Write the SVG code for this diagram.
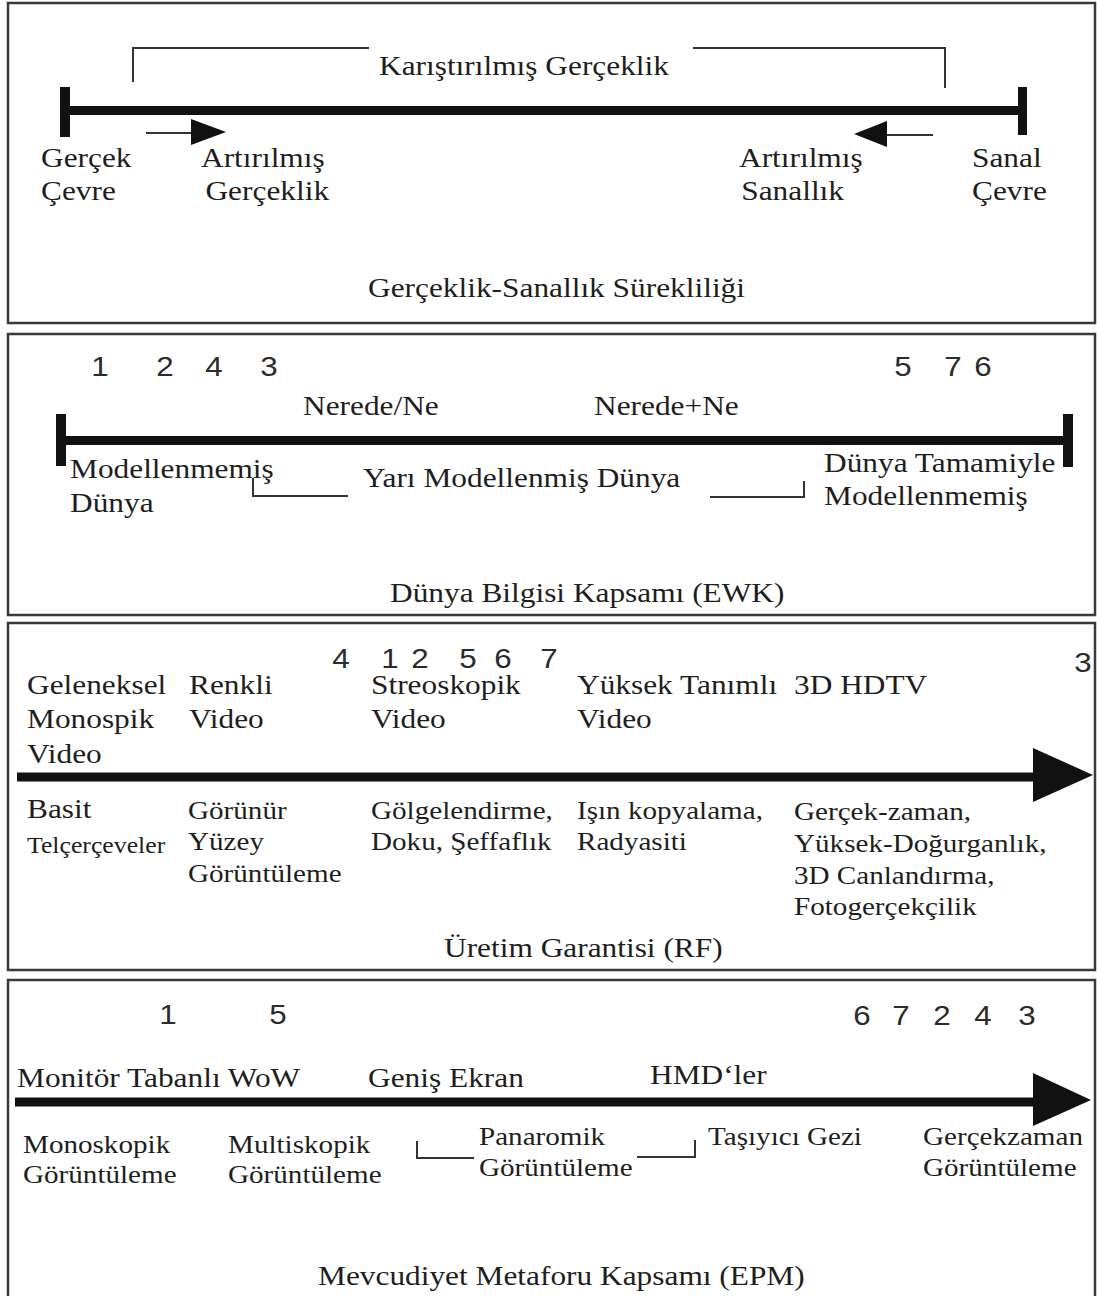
<svg xmlns="http://www.w3.org/2000/svg" width="1097" height="1296" viewBox="0 0 1097 1296">
<style>
.t{font-family:"Liberation Serif","Times New Roman",serif;font-size:28px;fill:#1e1e1e}
.s{font-size:26px}
.xs{font-size:23px}
.n{font-family:"Liberation Sans",Arial,sans-serif;font-size:28px;fill:#2b2b2b;text-anchor:middle}
.frame{fill:#fff;stroke:#3a3a3a;stroke-width:2.5}
.axis{stroke:#111;stroke-width:9;fill:none}
.thin{fill:none;stroke:#333;stroke-width:2}
.head{fill:#111}
</style>
<rect width="1097" height="1296" fill="#fff"/>
<!-- panel frames -->
<g id="panel1"><rect class="frame" x="8" y="3" width="1087" height="320"/></g>
<g id="panel2"><rect class="frame" x="8" y="334" width="1087" height="281"/></g>
<g id="panel3"><rect class="frame" x="8" y="623" width="1087" height="347"/></g>
<g id="panel4"><rect class="frame" x="8" y="980" width="1087" height="330"/></g>

<g id="connectors">
  <!-- panel 1 -->
  <path class="thin" d="M133,82 V48 H369 M693,48 H945 V88"/>
  <line class="axis" x1="64" y1="110.5" x2="1022" y2="110.5"/>
  <rect class="head" x="60" y="87" width="10" height="50"/>
  <rect class="head" x="1018" y="87" width="9" height="48"/>
  <line class="thin" x1="146" y1="133" x2="193" y2="133"/>
  <polygon class="head" points="191,119 226,132 191,145"/>
  <line class="thin" x1="885" y1="135" x2="933" y2="135"/>
  <polygon class="head" points="887,121 854,134 887,147"/>
  <!-- panel 2 -->
  <line class="axis" x1="56" y1="440.5" x2="1073" y2="440.5"/>
  <rect class="head" x="56" y="414" width="10" height="52"/>
  <rect class="head" x="1063" y="414" width="10" height="53"/>
  <path class="thin" d="M253,478 V496 H348"/>
  <path class="thin" d="M710,497 H804 V481"/>
  <!-- panel 3 -->
  <line class="axis" x1="17" y1="777" x2="1040" y2="777"/>
  <polygon class="head" points="1033,748 1093,775 1033,802"/>
  <!-- panel 4 -->
  <line class="axis" x1="15" y1="1102" x2="1040" y2="1102"/>
  <polygon class="head" points="1033,1073 1091,1100 1033,1126"/>
  <path class="thin" d="M417,1141 V1158 H474"/>
  <path class="thin" d="M637,1157 H695 V1140"/>
</g>

<!-- panel 1 nodes -->
<g id="karistirilmis"><text class="t" transform="translate(379,0) scale(1.12,1)" x="0" y="75">Karıştırılmış Gerçeklik</text></g>
<g id="gercek-cevre"><text class="t" transform="translate(41,0) scale(1.12,1)"><tspan x="0" y="167">Gerçek</tspan><tspan x="0" y="200">Çevre</tspan></text></g>
<g id="artirilmis-gerceklik"><text class="t" transform="translate(201,0) scale(1.12,1)"><tspan x="0" y="167">Artırılmış</tspan><tspan x="4" y="200">Gerçeklik</tspan></text></g>
<g id="artirilmis-sanallik"><text class="t" transform="translate(739,0) scale(1.12,1)"><tspan x="0" y="167">Artırılmış</tspan><tspan x="2" y="200">Sanallık</tspan></text></g>
<g id="sanal-cevre"><text class="t" transform="translate(972,0) scale(1.12,1)"><tspan x="0" y="167">Sanal</tspan><tspan x="0" y="200">Çevre</tspan></text></g>
<g id="title1"><text class="t" transform="translate(368,0) scale(1.12,1)" x="0" y="297">Gerçeklik-Sanallık Sürekliliği</text></g>

<!-- panel 2 nodes -->
<g id="nums2">
  <text class="n" transform="translate(100,376) scale(1.12,1)">1</text>
  <text class="n" transform="translate(165,376) scale(1.12,1)">2</text>
  <text class="n" transform="translate(214,376) scale(1.12,1)">4</text>
  <text class="n" transform="translate(269,376) scale(1.12,1)">3</text>
  <text class="n" transform="translate(903,376) scale(1.12,1)">5</text>
  <text class="n" transform="translate(953,376) scale(1.12,1)">7</text>
  <text class="n" transform="translate(983,376) scale(1.12,1)">6</text>
</g>
<g id="nerede-ne"><text class="t" transform="translate(303,0) scale(1.12,1)" x="0" y="415">Nerede/Ne</text></g>
<g id="nerede-arti-ne"><text class="t" transform="translate(594,0) scale(1.12,1)" x="0" y="415">Nerede+Ne</text></g>
<g id="modellenmemis-dunya"><text class="t" transform="translate(70,0) scale(1.12,1)"><tspan x="0" y="478">Modellenmemiş</tspan><tspan x="0" y="512">Dünya</tspan></text></g>
<g id="yari-modellenmis"><text class="t" transform="translate(363,0) scale(1.12,1)" x="0" y="487">Yarı Modellenmiş Dünya</text></g>
<g id="tamamiyle"><text class="t" transform="translate(824,0) scale(1.12,1)"><tspan x="0" y="472">Dünya Tamamiyle</tspan><tspan x="0" y="505">Modellenmemiş</tspan></text></g>
<g id="title2"><text class="t" transform="translate(390,0) scale(1.12,1)" x="0" y="602">Dünya Bilgisi Kapsamı (EWK)</text></g>

<!-- panel 3 nodes -->
<g id="nums3">
  <text class="n" transform="translate(341,668) scale(1.12,1)">4</text>
  <text class="n" transform="translate(390,668) scale(1.12,1)">1</text>
  <text class="n" transform="translate(420,668) scale(1.12,1)">2</text>
  <text class="n" transform="translate(468,668) scale(1.12,1)">5</text>
  <text class="n" transform="translate(503,668) scale(1.12,1)">6</text>
  <text class="n" transform="translate(549,668) scale(1.12,1)">7</text>
  <text class="n" transform="translate(1083,672) scale(1.12,1)">3</text>
</g>
<g id="geleneksel"><text class="t" transform="translate(27,0) scale(1.12,1)"><tspan x="0" y="694">Geleneksel</tspan><tspan x="0" y="728">Monospik</tspan><tspan x="0" y="763">Video</tspan></text></g>
<g id="renkli"><text class="t" transform="translate(189,0) scale(1.12,1)"><tspan x="0" y="694">Renkli</tspan><tspan x="0" y="728">Video</tspan></text></g>
<g id="streoskopik"><text class="t" transform="translate(371,0) scale(1.12,1)"><tspan x="0" y="694">Streoskopik</tspan><tspan x="0" y="728">Video</tspan></text></g>
<g id="yuksek-tanimli"><text class="t" transform="translate(577,0) scale(1.12,1)"><tspan x="0" y="694">Yüksek Tanımlı</tspan><tspan x="0" y="728">Video</tspan></text></g>
<g id="hdtv"><text class="t" transform="translate(794,0) scale(1.12,1)" x="0" y="694">3D HDTV</text></g>
<g id="basit"><text class="t" transform="translate(27,0) scale(1.12,1)"><tspan x="0" y="818">Basit</tspan><tspan class="xs" x="0" y="853">Telçerçeveler</tspan></text></g>
<g id="gorunur"><text class="t s" transform="translate(188,0) scale(1.12,1)"><tspan x="0" y="819">Görünür</tspan><tspan x="0" y="850">Yüzey</tspan><tspan x="0" y="882">Görüntüleme</tspan></text></g>
<g id="golgelendirme"><text class="t s" transform="translate(371,0) scale(1.12,1)"><tspan x="0" y="819">Gölgelendirme,</tspan><tspan x="0" y="850">Doku, Şeffaflık</tspan></text></g>
<g id="isin"><text class="t s" transform="translate(577,0) scale(1.12,1)"><tspan x="0" y="819">Işın kopyalama,</tspan><tspan x="0" y="850">Radyasiti</tspan></text></g>
<g id="gercek-zaman"><text class="t s" transform="translate(794,0) scale(1.12,1)"><tspan x="0" y="820">Gerçek-zaman,</tspan><tspan x="0" y="852">Yüksek-Doğurganlık,</tspan><tspan x="0" y="884">3D Canlandırma,</tspan><tspan x="0" y="915">Fotogerçekçilik</tspan></text></g>
<g id="title3"><text class="t" transform="translate(444,0) scale(1.12,1)" x="0" y="957">Üretim Garantisi (RF)</text></g>

<!-- panel 4 nodes -->
<g id="nums4">
  <text class="n" transform="translate(168,1024) scale(1.12,1)">1</text>
  <text class="n" transform="translate(278,1024) scale(1.12,1)">5</text>
  <text class="n" transform="translate(862,1025) scale(1.12,1)">6</text>
  <text class="n" transform="translate(901,1025) scale(1.12,1)">7</text>
  <text class="n" transform="translate(942,1025) scale(1.12,1)">2</text>
  <text class="n" transform="translate(983,1025) scale(1.12,1)">4</text>
  <text class="n" transform="translate(1027,1025) scale(1.12,1)">3</text>
</g>
<g id="monitor"><text class="t" transform="translate(17,0) scale(1.12,1)" x="0" y="1087">Monitör Tabanlı WoW</text></g>
<g id="genis"><text class="t" transform="translate(368,0) scale(1.12,1)" x="0" y="1087">Geniş Ekran</text></g>
<g id="hmd"><text class="t" transform="translate(650,0) scale(1.12,1)" x="0" y="1084">HMD‘ler</text></g>
<g id="monoskopik"><text class="t s" transform="translate(23,0) scale(1.12,1)"><tspan x="0" y="1153">Monoskopik</tspan><tspan x="0" y="1183">Görüntüleme</tspan></text></g>
<g id="multiskopik"><text class="t s" transform="translate(228,0) scale(1.12,1)"><tspan x="0" y="1153">Multiskopik</tspan><tspan x="0" y="1183">Görüntüleme</tspan></text></g>
<g id="panaromik"><text class="t s" transform="translate(479,0) scale(1.12,1)"><tspan x="0" y="1145">Panaromik</tspan><tspan x="0" y="1176">Görüntüleme</tspan></text></g>
<g id="tasiyici"><text class="t s" transform="translate(708,0) scale(1.12,1)" x="0" y="1145">Taşıyıcı Gezi</text></g>
<g id="gercekzaman"><text class="t s" transform="translate(923,0) scale(1.12,1)"><tspan x="0" y="1145">Gerçekzaman</tspan><tspan x="0" y="1176">Görüntüleme</tspan></text></g>
<g id="title4"><text class="t" transform="translate(318,0) scale(1.12,1)" x="0" y="1285">Mevcudiyet Metaforu Kapsamı (EPM)</text></g>
</svg>
